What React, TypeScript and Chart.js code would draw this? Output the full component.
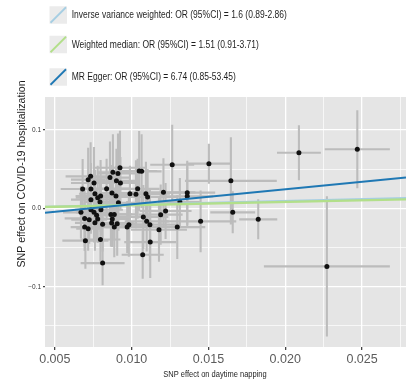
import React, { useEffect, useRef } from "react";
import { Chart, registerables } from "chart.js";

Chart.register(...registerables);

// SNP effects on daytime napping (exposure) and COVID-19 hospitalization (outcome)
const snpX = [
  0.0067, 0.00681, 0.00694, 0.00699, 0.00717, 0.00717, 0.00733, 0.00735, 0.00735, 0.00735,
  0.00755, 0.00755, 0.00761, 0.00761, 0.00772, 0.00779, 0.00779, 0.00794, 0.00798, 0.00797,
  0.00811, 0.00811, 0.00837, 0.00859, 0.00872, 0.00878, 0.00901, 0.00911, 0.00924, 0.00927,
  0.00898, 0.00914, 0.00865, 0.00887, 0.00874, 0.0087, 0.00906, 0.00887, 0.00971, 0.00982,
  0.00989, 0.01028, 0.01039, 0.01049, 0.01065, 0.01076, 0.01098, 0.01119, 0.01093, 0.01104,
  0.01121, 0.01072, 0.01178, 0.01189, 0.01221, 0.01207, 0.01264, 0.01362, 0.01362, 0.01314,
  0.01297, 0.01449, 0.01503, 0.01646, 0.01658, 0.01824, 0.02089, 0.02469, 0.02271, 0.00694,
  0.00724, 0.008,
];
const snpY = [
  -0.0051, 0.0246, -0.0239, -0.0412, 0.0366, -0.0259, 0.0408, 0.0246, 0.0111, -0.0017,
  0.0323, -0.0051, 0.0187, -0.0185, -0.0089, 0.0136, -0.0136, 0.008, 0.0157, -0.0398,
  -0.0204, -0.0698, 0.0251, 0.0392, 0.0195, 0.0459, 0.0351, 0.0446, 0.0517, 0.0323,
  0.0159, 0.007, -0.0077, -0.0077, -0.0136, -0.0187, -0.0195, -0.0239, -0.0239, -0.0208,
  0.0187, 0.0179, 0.0249, 0.0476, 0.0472, -0.0111, -0.0166, -0.0208, 0.0187, 0.0144,
  -0.043, -0.0591, -0.0272, -0.008, -0.0034, 0.0204, 0.0557, 0.02, 0.0153, 0.008,
  -0.0239, -0.0166, 0.057, 0.0351, -0.0051, -0.014, 0.071, 0.0753, -0.074, -0.0128,
  -0.0144, -0.0017,
];
// 95% CI half-widths
const ciX = [
  0.00117, 0.00143, 0.00091, 0.0015, 0.00112, 0.00078, 0.00163, 0.00104, 0.0013, 0.00104,
  0.0015, 0.00117, 0.00104, 0.0013, 0.00091, 0.00143, 0.00117, 0.00104, 0.00163, 0.0013,
  0.00112, 0.00143, 0.0015, 0.0013, 0.00117, 0.00104, 0.0015, 0.0013, 0.00176, 0.00117,
  0.00143, 0.0013, 0.00163, 0.00117, 0.00104, 0.00143, 0.0013, 0.00117, 0.00143, 0.00163,
  0.0013, 0.00176, 0.00143, 0.00117, 0.0013, 0.00163, 0.00143, 0.00189, 0.00156, 0.00195,
  0.00169, 0.00137, 0.00182, 0.00143, 0.00169, 0.00208, 0.00143, 0.00182, 0.00169, 0.0013,
  0.00182, 0.00232, 0.00146, 0.00299, 0.00146, 0.00124, 0.00143, 0.00212, 0.0041, 0.0013,
  0.00117, 0.00143,
];
const ciY = [
  0.0332, 0.0383, 0.0306, 0.0357, 0.0408, 0.0281, 0.0434, 0.0332, 0.0357, 0.0306,
  0.0459, 0.0383, 0.0306, 0.0357, 0.0332, 0.0408, 0.0306, 0.0281, 0.0459, 0.0281,
  0.0345, 0.0281, 0.0383, 0.0459, 0.0357, 0.0485, 0.0408, 0.051, 0.0472, 0.0332,
  0.0383, 0.0357, 0.0408, 0.0332, 0.0357, 0.0306, 0.0408, 0.0383, 0.0332, 0.0408,
  0.0357, 0.0434, 0.0383, 0.051, 0.0472, 0.0408, 0.0383, 0.0459, 0.0408, 0.0357,
  0.0459, 0.0306, 0.0408, 0.0383, 0.0357, 0.0434, 0.051, 0.0408, 0.0383, 0.0306,
  0.0408, 0.0395, 0.0255, 0.0556, 0.0268, 0.0255, 0.0351, 0.0497, 0.0893, 0.0357,
  0.0306, 0.0332,
];

const methodLabels = [
  "Inverse variance weighted: OR (95%CI) = 1.6 (0.89-2.86)",
  "Weighted median: OR (95%CI) = 1.51 (0.91-3.71)",
  "MR Egger: OR (95%CI) = 6.74 (0.85-53.45)",
];
const methodOR = [1.6, 1.51, 6.74];
const methodIntercept = [0, 0, -0.0138];
const methodColors = ["#a6cee3", "#b2df8a", "#1f78b4"];

const xTicks = [0.005, 0.0075, 0.01, 0.0125, 0.015, 0.0175, 0.02, 0.0225, 0.025, 0.0275];
const xTickLabels = ["0.005", "", "0.010", "", "0.015", "", "0.020", "", "0.025", ""];
const yTicks = [-0.15, -0.1, -0.05, 0, 0.05, 0.1];
const yTickLabels = ["", "\u22120.1", "", "0.0", "", "0.1"];
const xRange = [0.00436, 0.02786];
const yRange = [-0.1768, 0.142];

const xTitle = "SNP effect on daytime napping";
const yTitle = "SNP effect on COVID-19 hospitalization";

const FONT = '"Liberation Sans", Arial, Helvetica, sans-serif';

const panelPlugin = {
  id: "panelBg",
  beforeDraw(chart: any) {
    const { ctx, chartArea } = chart;
    ctx.save();
    ctx.fillStyle = "#e5e5e5";
    ctx.fillRect(chartArea.left, chartArea.top, chartArea.width, chartArea.height);
    ctx.restore();
  },
};

const errorBarPlugin = {
  id: "errorBars",
  beforeDatasetsDraw(chart: any) {
    const { ctx, chartArea } = chart;
    const x = chart.scales.x;
    const y = chart.scales.y;
    ctx.save();
    ctx.beginPath();
    ctx.rect(chartArea.left, chartArea.top, chartArea.width, chartArea.height);
    ctx.clip();
    ctx.strokeStyle = "#bcbcbc";
    ctx.lineWidth = 2.1;
    snpX.forEach((vx, i) => {
      const vy = snpY[i];
      const px = x.getPixelForValue(vx);
      const py = y.getPixelForValue(vy);
      ctx.beginPath();
      ctx.moveTo(x.getPixelForValue(vx - ciX[i]), py);
      ctx.lineTo(x.getPixelForValue(vx + ciX[i]), py);
      ctx.moveTo(px, y.getPixelForValue(vy - ciY[i]));
      ctx.lineTo(px, y.getPixelForValue(vy + ciY[i]));
      ctx.stroke();
    });
    ctx.restore();
  },
};

const textPlugin = {
  id: "textLayer",
  afterDraw(chart: any) {
    const { ctx, chartArea } = chart;
    ctx.save();
    // legend
    const rowY = [15, 44.5, 77];
    methodLabels.forEach((label, i) => {
      const cy = rowY[i];
      const bx = 49.5;
      const size = 17.5;
      const by = cy - size / 2;
      ctx.fillStyle = "#ebebeb";
      ctx.fillRect(bx, by, size, size);
      ctx.strokeStyle = methodColors[i];
      ctx.lineWidth = 1.8;
      ctx.beginPath();
      ctx.moveTo(bx + 1, by + size - 1);
      ctx.lineTo(bx + size - 1, by + 1);
      ctx.stroke();
      ctx.save();
      ctx.translate(71.7, cy + 0.5);
      ctx.scale(0.85, 1);
      ctx.font = `10px ${FONT}`;
      ctx.fillStyle = "#1e1e1e";
      ctx.textAlign = "left";
      ctx.textBaseline = "middle";
      ctx.fillText(label, 0, 0);
      ctx.restore();
    });
    // x title
    ctx.save();
    ctx.translate((chartArea.left + chartArea.right) / 2 - 10.5, 374.5);
    ctx.scale(0.79, 1);
    ctx.font = `9.5px ${FONT}`;
    ctx.fillStyle = "#1e1e1e";
    ctx.textAlign = "center";
    ctx.textBaseline = "middle";
    ctx.fillText(xTitle, 0, 0);
    ctx.restore();
    // y title
    ctx.save();
    ctx.translate(22.5, 174);
    ctx.rotate(-Math.PI / 2);
    ctx.font = `10.6px ${FONT}`;
    ctx.fillStyle = "#1e1e1e";
    ctx.textAlign = "center";
    ctx.textBaseline = "middle";
    ctx.fillText(yTitle, 0, 0);
    ctx.restore();
    ctx.restore();
  },
};

export default function App() {
  const canvasRef = useRef<HTMLCanvasElement | null>(null);

  useEffect(() => {
    const canvas = canvasRef.current;
    if (!canvas) return;

    const lineDatasets = [2, 1, 0].map((k) => {
      const slope = Math.log(methodOR[k]);
      return {
        label: methodLabels[k],
        data: xRange.map((vx) => ({ x: vx, y: methodIntercept[k] + slope * vx })),
        showLine: true,
        borderColor: methodColors[k],
        backgroundColor: methodColors[k],
        borderWidth: k === 1 ? 2.4 : 2,
        pointRadius: 0,
      };
    });

    const pointDataset = {
      label: "SNPs",
      data: snpX.map((vx, i) => ({ x: vx, y: snpY[i] })),
      showLine: false,
      pointRadius: 2.5,
      pointBackgroundColor: "#111",
      pointBorderWidth: 0,
      borderColor: "#111",
    };

    const isMajorX = (v: number) => xTickLabels[xTicks.indexOf(v)] !== "";
    const isMajorY = (v: number) => yTickLabels[yTicks.indexOf(v)] !== "";

    const chart = new Chart(canvas, {
      type: "scatter",
      data: { datasets: [...lineDatasets, pointDataset] as any },
      options: {
        animation: false,
        responsive: false,
        layout: { padding: { left: 0, right: 5, top: 97, bottom: 0 } },
        plugins: { legend: { display: false }, tooltip: { enabled: false } },
        scales: {
          x: {
            type: "linear",
            min: xRange[0],
            max: xRange[1],
            afterFit: (s: any) => {
              s.height = 36;
            },
            afterBuildTicks: (s: any) => {
              s.ticks = xTicks.map((v) => ({ value: v }));
            },
            border: { display: false },
            grid: {
              color: "#ffffff",
              lineWidth: (c: any) => (isMajorX(c.tick?.value) ? 1.3 : 0.7),
              drawTicks: true,
              tickLength: 3,
              tickColor: (c: any) => (isMajorX(c.tick?.value) ? "#444" : "rgba(0,0,0,0)"),
            },
            ticks: {
              autoSkip: false,
              maxRotation: 0,
              padding: 2,
              color: "#5c5c5c",
              font: { family: FONT, size: 12.5 },
              callback: (v: any) => xTickLabels[xTicks.indexOf(Number(v))] ?? "",
            },
          },
          y: {
            type: "linear",
            min: yRange[0],
            max: yRange[1],
            afterFit: (s: any) => {
              s.width = 45;
            },
            afterBuildTicks: (s: any) => {
              s.ticks = yTicks.map((v) => ({ value: v }));
            },
            border: { display: false },
            grid: {
              color: "#ffffff",
              lineWidth: (c: any) => (isMajorY(c.tick?.value) ? 1.3 : 0.7),
              drawTicks: true,
              tickLength: 2,
              tickColor: (c: any) => (isMajorY(c.tick?.value) ? "#444" : "rgba(0,0,0,0)"),
            },
            ticks: {
              autoSkip: false,
              padding: 2,
              color: "#333",
              font: { family: FONT, size: 6.5 },
              callback: (v: any) => yTickLabels[yTicks.indexOf(Number(v))] ?? "",
            },
          },
        },
      },
      plugins: [panelPlugin, errorBarPlugin, textPlugin],
    });

    return () => chart.destroy();
  }, []);

  return (
    <canvas
      ref={canvasRef}
      width={411}
      height={383}
      style={{ position: "fixed", left: 0, top: 0, width: 411, height: 383 }}
    />
  );
}
